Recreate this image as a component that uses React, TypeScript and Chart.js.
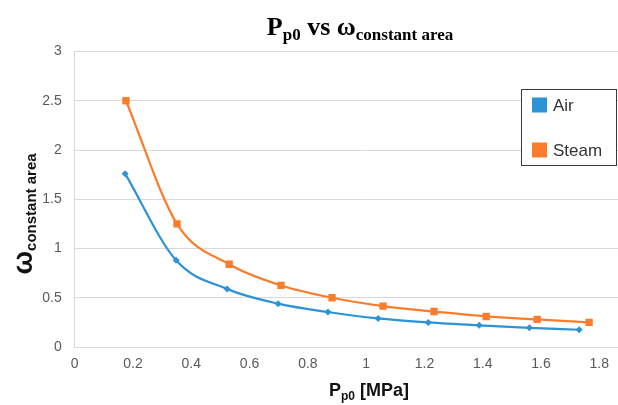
import React, { useEffect, useRef } from "react";
import { Chart, registerables } from "chart.js";

Chart.register(...registerables);

const seriesNames = ["Air", "Steam"];
const seriesColors = ["#2b93d6", "#fb7d2b"];
const airX = [0.173, 0.348, 0.523, 0.698, 0.869, 1.041, 1.213, 1.388, 1.56, 1.731];
const airY = [1.76, 0.88, 0.59, 0.44, 0.355, 0.29, 0.25, 0.22, 0.195, 0.175];
const steamX = [0.176, 0.351, 0.53, 0.708, 0.883, 1.058, 1.233, 1.412, 1.587, 1.765];
const steamY = [2.5, 1.25, 0.84, 0.625, 0.5, 0.415, 0.36, 0.31, 0.28, 0.25];

const CANVAS_W = 680;
const CANVAS_H = 405;

type Part = { t: string; font: string; dy: number };

function measureParts(ctx: CanvasRenderingContext2D, parts: Part[]) {
  let w = 0;
  for (const p of parts) {
    ctx.font = p.font;
    w += ctx.measureText(p.t).width;
  }
  return w;
}

function drawParts(ctx: CanvasRenderingContext2D, parts: Part[], x: number, y: number) {
  let cx = x;
  for (const p of parts) {
    ctx.font = p.font;
    ctx.fillText(p.t, cx, y + p.dy);
    cx += ctx.measureText(p.t).width;
  }
}

const fmt = (v: any) => String(Math.round(Number(v) * 10) / 10);

const textPlugin = {
  id: "customText",
  afterDraw(chart: any) {
    const ctx: CanvasRenderingContext2D = chart.ctx;
    ctx.save();
    ctx.textBaseline = "alphabetic";
    ctx.textAlign = "left";

    // Title
    const serif = "'Liberation Serif', 'Times New Roman', serif";
    const title: Part[] = [
      { t: "P", font: `bold 26px ${serif}`, dy: 0 },
      { t: "p0", font: `bold 17px ${serif}`, dy: 5 },
      { t: " vs ω", font: `bold 26px ${serif}`, dy: 0 },
      { t: "constant area", font: `bold 17px ${serif}`, dy: 5 },
    ];
    ctx.fillStyle = "#000";
    const tw = measureParts(ctx, title);
    drawParts(ctx, title, 360 - tw / 2, 35);

    // X axis title
    const sans = "'Liberation Sans', Arial, sans-serif";
    const xt: Part[] = [
      { t: "P", font: `bold 18px ${sans}`, dy: 0 },
      { t: "p0", font: `bold 12px ${sans}`, dy: 4 },
      { t: " [MPa]", font: `bold 18px ${sans}`, dy: 0 },
    ];
    ctx.fillStyle = "#111";
    const xw = measureParts(ctx, xt);
    drawParts(ctx, xt, 369 - xw / 2, 396);

    // Y axis title
    const yt: Part[] = [
      { t: "ω", font: `bold 28px ${sans}`, dy: 0 },
      { t: "constant area", font: `bold 15px ${sans}`, dy: 4 },
    ];
    const yw = measureParts(ctx, yt);
    ctx.translate(32, 214);
    ctx.rotate(-Math.PI / 2);
    drawParts(ctx, yt, -yw / 2, 0);
    ctx.restore();

    // Legend
    ctx.save();
    const lx = 521.5, ly = 89.5, lw = 95, lh = 76;
    ctx.fillStyle = "#fff";
    ctx.fillRect(lx, ly, lw, lh);
    ctx.strokeStyle = "#3a3a3a";
    ctx.lineWidth = 1;
    ctx.strokeRect(lx, ly, lw, lh);
    const rows = [105, 150];
    ctx.textBaseline = "middle";
    ctx.font = `17px ${sans}`;
    for (let i = 0; i < seriesNames.length; i++) {
      ctx.fillStyle = seriesColors[i];
      ctx.fillRect(532, rows[i] - 7.5, 15, 15);
      ctx.fillStyle = "#333";
      ctx.fillText(seriesNames[i], 553, rows[i] + 1);
    }
    ctx.restore();
  },
};

export default function App() {
  const ref = useRef<HTMLCanvasElement | null>(null);

  useEffect(() => {
    if (!ref.current) return;
    const mk = (xs: number[], ys: number[]) => xs.map((x, i) => ({ x, y: ys[i] }));
    const chart = new Chart(ref.current, {
      type: "line",
      data: {
        datasets: [
          {
            label: seriesNames[0],
            data: mk(airX, airY),
            borderColor: seriesColors[0],
            backgroundColor: seriesColors[0],
            borderWidth: 2.2,
            pointStyle: "rectRot",
            pointRadius: 3.5,
            pointBorderWidth: 0,
            cubicInterpolationMode: "monotone",
            fill: false,
          },
          {
            label: seriesNames[1],
            data: mk(steamX, steamY),
            borderColor: seriesColors[1],
            backgroundColor: seriesColors[1],
            borderWidth: 2.2,
            pointStyle: "rect",
            pointRadius: 5.2,
            pointBorderWidth: 0,
            cubicInterpolationMode: "monotone",
            fill: false,
          },
        ],
      },
      options: {
        responsive: false,
        animation: false,
        devicePixelRatio: 1,
        layout: { padding: { top: 51.5, right: CANVAS_W - 657.6, left: 0, bottom: 0 } },
        plugins: {
          legend: { display: false },
          title: { display: false },
          tooltip: { enabled: false },
        },
        scales: {
          x: {
            type: "linear",
            min: 0,
            max: 2,
            ticks: {
              stepSize: 0.2,
              color: "#595959",
              font: { family: "'Liberation Sans', Arial, sans-serif", size: 14 },
              padding: 9,
              maxRotation: 0,
              callback: fmt,
            },
            grid: { display: false, drawTicks: false },
            border: { display: true, color: "#d9d9d9", width: 1 },
            afterFit: (s: any) => {
              s.height = 58;
            },
          },
          y: {
            min: 0,
            max: 3,
            ticks: {
              stepSize: 0.5,
              color: "#595959",
              font: { family: "'Liberation Sans', Arial, sans-serif", size: 14 },
              padding: 13,
              callback: fmt,
            },
            grid: { color: "#d9d9d9", lineWidth: 1, drawTicks: false },
            border: { display: true, color: "#d9d9d9", width: 1 },
            afterFit: (s: any) => {
              s.width = 74.7;
            },
          },
        },
      },
      plugins: [textPlugin],
    });
    return () => chart.destroy();
  }, []);

  return (
    <div
      style={{
        position: "fixed",
        left: 0,
        top: 0,
        width: 618,
        height: 405,
        overflow: "hidden",
        background: "#fff",
      }}
    >
      <canvas ref={ref} width={CANVAS_W} height={CANVAS_H} style={{ display: "block" }} />
    </div>
  );
}
